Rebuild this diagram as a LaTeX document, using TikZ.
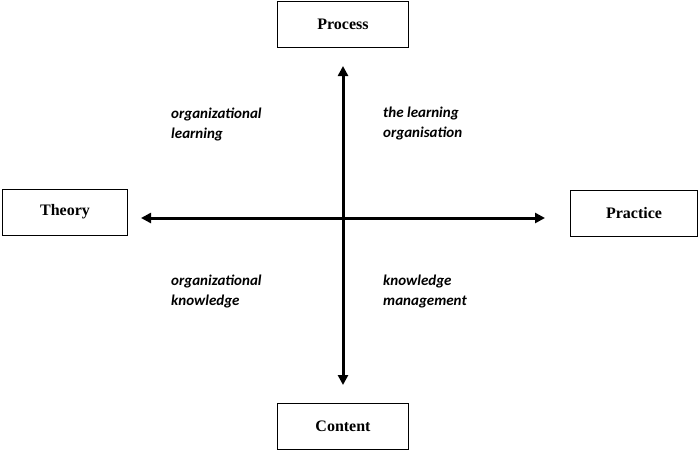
\documentclass[tikz,border=0pt]{standalone}
\usepackage{fontspec}
\setmainfont{Liberation Serif}
\newfontfamily\labelfont{Carlito}
\usetikzlibrary{arrows.meta}
\tikzstyle{block} = [draw, line width=1pt, rectangle, minimum height=46pt, minimum width=128pt,
font=\fontsize{16}{18}\selectfont\bfseries]
\tikzstyle{quad} = [align=left, anchor=north west, inner sep=0pt,
font=\labelfont\fontsize{15}{20}\selectfont\bfseries\itshape]
\tikzstyle{axis} = [line width=3pt, {Triangle[length=10pt,width=10pt]}-{Triangle[length=10pt,width=10pt]}]

\begin{document}
\begin{tikzpicture}[x=1pt, y=-1pt]
	\useasboundingbox (0,0) rectangle (700,453);
	% the four boxes
	\node [block, minimum width=131pt] (process) at (343,24) {Process};
	\node [block, minimum width=125pt] (theory) at (65,212) {Theory};
	\node [block, minimum width=127pt] (practice) at (634,213) {Practice};
	\node [block, minimum width=131pt] (content) at (343,426) {Content};
	% axis end points
	\coordinate (top) at (343,66);
	\coordinate (bottom) at (343,385);
	\coordinate (left) at (141,218);
	\coordinate (right) at (545,218);
	\draw [axis] (top) -- (bottom);
	\draw [axis] (left) -- (right);
	% quadrant labels
	\node [quad] (ol) at (171,108) {organizational\\learning};
	\node [quad] (tlo) at (383,107) {the learning\\organisation};
	\node [quad] (ok) at (171,275) {organizational\\knowledge};
	\node [quad] (km) at (383,275) {knowledge\\management};
\end{tikzpicture}
\end{document}
